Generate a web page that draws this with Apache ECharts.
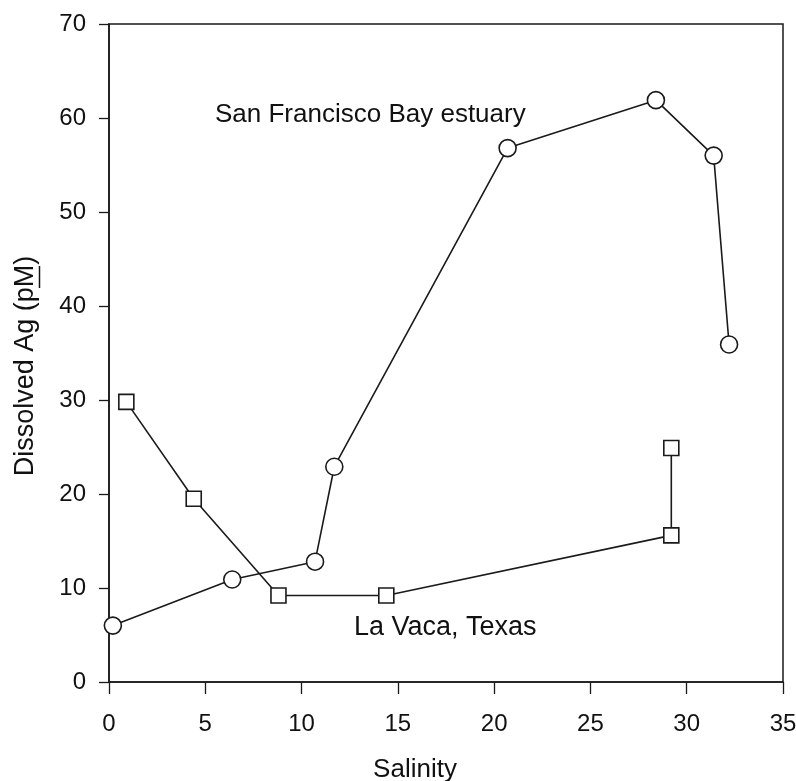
<!DOCTYPE html>
<html>
<head>
<meta charset="utf-8">
<script src="https://cdn.jsdelivr.net/npm/echarts@6/dist/echarts.min.js"></script>
<style>
html,body{margin:0;padding:0;background:#fff;}
#c{width:796px;height:781px;}
</style>
</head>
<body>
<div id="c"></div>
<script>
// Salinity (x) vs Dissolved Ag pM (y)
const sfSalinity = [0.2, 6.4, 10.7, 11.7, 20.7, 28.4, 31.4, 32.2];
const sfAg       = [6.0, 10.9, 12.8, 22.9, 56.8, 61.9, 56.0, 35.9];
const lvSalinity = [0.9, 4.4, 8.8, 14.4, 29.2, 29.2];
const lvAg       = [29.8, 19.5, 9.2, 9.2, 15.6, 24.9];
const xTicks = [0, 5, 10, 15, 20, 25, 30, 35];
const yTicks = [0, 10, 20, 30, 40, 50, 60, 70];
const sfName = 'San Francisco Bay estuary';
const lvName = 'La Vaca, Texas';

const FONT = 'Liberation Sans, Arial, sans-serif';
const chart = echarts.init(document.getElementById('c'));
const pair = (xs, ys) => xs.map((x, i) => [x, ys[i]]);

chart.setOption({
  backgroundColor: '#fff',
  animation: false,
  grid: { left: 109, right: 13, top: 24, bottom: 99, containLabel: false, outerBoundsMode: 'none',
          show: true, borderColor: '#1a1a1a', borderWidth: 1.5 },
  xAxis: {
    type: 'value', min: xTicks[0], max: xTicks[xTicks.length - 1], interval: 5,
    name: 'Salinity', nameLocation: 'middle', nameGap: 75,
    nameTextStyle: { fontFamily: FONT, fontSize: 26, color: '#111', padding: [0, 62, 0, 0] },
    axisLine: { show: true, lineStyle: { color: '#1a1a1a', width: 1.6 } },
    axisTick: { show: true, inside: false, length: 12, lineStyle: { color: '#1a1a1a', width: 1.3 } },
    axisLabel: { fontFamily: FONT, fontSize: 24, color: '#111', margin: 30 },
    splitLine: { show: false }
  },
  yAxis: {
    type: 'value', min: yTicks[0], max: yTicks[yTicks.length - 1], interval: 10,
    name: 'Dissolved Ag (pM)', nameLocation: 'middle', nameGap: 70, nameRotate: 90,
    nameTextStyle: { fontFamily: FONT, fontSize: 27, color: '#111', padding: [0, 26, 0, 0] },
    axisLine: { show: true, lineStyle: { color: '#1a1a1a', width: 1.6 } },
    axisTick: { show: true, inside: false, length: 10, lineStyle: { color: '#1a1a1a', width: 1.3 } },
    axisLabel: { fontFamily: FONT, fontSize: 24, color: '#111', margin: 23 },
    splitLine: { show: false }
  },
  series: [
    {
      name: sfName, type: 'line', data: pair(sfSalinity, sfAg),
      symbol: 'circle', symbolSize: 17, showAllSymbol: true,
      lineStyle: { color: '#1a1a1a', width: 1.6 },
      itemStyle: { color: '#fff', borderColor: '#1a1a1a', borderWidth: 1.6 },
      z: 3
    },
    {
      name: lvName, type: 'line', data: pair(lvSalinity, lvAg),
      symbol: 'rect', symbolSize: 15, showAllSymbol: true,
      lineStyle: { color: '#1a1a1a', width: 1.6 },
      itemStyle: { color: '#fff', borderColor: '#1a1a1a', borderWidth: 1.6 },
      z: 3
    }
  ],
  graphic: [
    { type: 'text', left: 215, top: 102, style: { text: sfName, font: '26px ' + FONT, fill: '#111' } },
    { type: 'text', left: 354, top: 614, style: { text: lvName, font: '27px ' + FONT, fill: '#111' } },
    // underline under "M" of pM in the rotated y-axis title
    { type: 'line', shape: { x1: 39.5, y1: 266, x2: 39.5, y2: 288 }, style: { stroke: '#111', lineWidth: 1.5 } }
  ]
});
</script>
</body>
</html>
